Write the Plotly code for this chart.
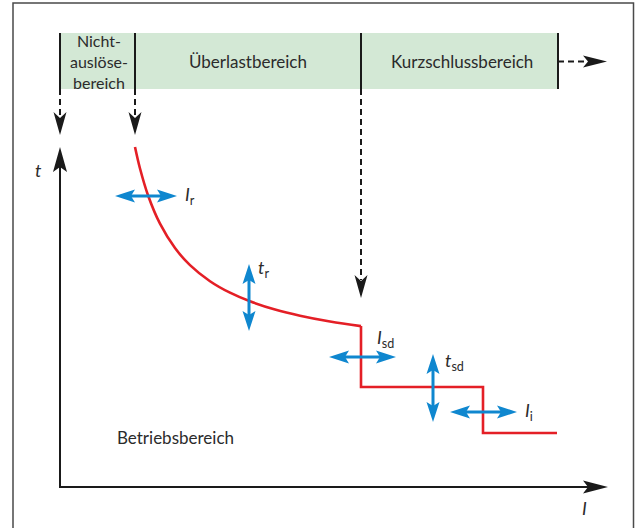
import plotly.graph_objects as go

# ---------------- data (schematic diagram, canvas units) ----------------
# region band
band_top, band_bottom = 33, 89
region_edges = [60, 135, 361, 558]
region_labels = ["Überlastbereich", "Kurzschlussbereich"]
region_label_x = [248, 462]
nicht_lines = ["Nicht-", "auslöse-", "bereich"]

# tripping characteristic (red): long-time curve then short-time / instantaneous steps
curve_x = [135, 140, 148, 160, 175, 190, 210, 230, 250, 275, 300, 330, 361]
curve_y = [147, 168.5, 195.2, 223.7, 248.1, 265.1, 281.2, 292.7, 301.3, 309.5, 315.7, 321.5, 326.1]
step_x = [361, 361, 483, 483, 557]
step_y = [326.1, 387, 387, 433, 433]

# setting arrows (blue): name, orientation, centre x, centre y, half length
setting_names = ["<i>I</i><sub>r</sub>", "<i>t</i><sub>r</sub>", "<i>I</i><sub>sd</sub>",
                 "<i>t</i><sub>sd</sub>", "<i>I</i><sub>i</sub>"]
setting_orient = ["h", "v", "h", "v", "h"]
setting_cx = [146, 249, 362.5, 433, 483.5]
setting_cy = [196, 297.5, 357, 388, 412]
setting_half = [31, 33.5, 33.5, 34, 33.5]
setting_label_x = [183, 256, 375, 443, 523]
setting_label_y = [195, 268, 338, 361, 411]

# axes
origin = (60, 487)
t_axis_tip = 147
i_axis_tip = 608

BLACK = "#1a1a1a"
RED = "#e41f26"
BLUE = "#0f87cf"
GREEN = "#d3e8d5"
TEXT = "#2b2b2b"
FONT = "Lato, 'Open Sans', sans-serif"

fig = go.Figure()


def head(tip, d, length, half_w, notch, color):
    """Filled notched arrowhead polygon; d = unit direction of pointing."""
    tx, ty = tip
    dx, dy = d
    px, py = -dy, dx
    bx, by = tx - dx * length, ty - dy * length
    nx, ny = tx - dx * (length - notch), ty - dy * (length - notch)
    xs = [tx, bx + px * half_w, nx, bx - px * half_w, tx]
    ys = [ty, by + py * half_w, ny, by - py * half_w, ty]
    fig.add_trace(go.Scatter(x=xs, y=ys, mode="lines", fill="toself", fillcolor=color,
                             line=dict(width=0, color=color), hoverinfo="skip", showlegend=False))


def seg(xs, ys, color, width, dash="solid"):
    fig.add_trace(go.Scatter(x=xs, y=ys, mode="lines", line=dict(color=color, width=width, dash=dash),
                             hoverinfo="skip", showlegend=False))


# band
fig.add_shape(type="rect", x0=region_edges[0], x1=region_edges[-1], y0=band_top, y1=band_bottom,
              fillcolor=GREEN, line=dict(width=0), layer="below")
for ex in region_edges:
    seg([ex, ex], [band_top, band_bottom], BLACK, 2)

# region labels
for lx, lab in zip(region_label_x, region_labels):
    fig.add_annotation(x=lx, y=(band_top + band_bottom) / 2, text=lab, showarrow=False,
                       font=dict(family=FONT, size=17, color=TEXT))
fig.add_annotation(x=(region_edges[0] + region_edges[1]) / 2 + 1, y=(band_top + band_bottom) / 2 + 0.5,
                   text="<br>".join(nicht_lines), showarrow=False,
                   font=dict(family=FONT, size=16, color=TEXT))

# dashed pointers
for ex in region_edges[:2]:
    seg([ex, ex], [band_bottom, 117], BLACK, 2, "6px,4px")
    head((ex, 135), (0, 1), 23, 6.5, 6, BLACK)
seg([region_edges[2]] * 2, [band_bottom, 280], BLACK, 2, "6px,4px")
head((region_edges[2], 298), (0, 1), 23, 6.5, 6, BLACK)
seg([region_edges[3], 588], [61.5, 61.5], BLACK, 2, "6px,4px")
head((607, 61.5), (1, 0), 24, 6, 5, BLACK)

# axes
seg([origin[0], origin[0]], [origin[1] + 1, t_axis_tip + 18], BLACK, 2)
head((origin[0], t_axis_tip), (0, -1), 25, 7, 5, BLACK)
seg([origin[0] - 1, i_axis_tip - 18], [origin[1], origin[1]], BLACK, 2)
head((i_axis_tip, origin[1]), (1, 0), 25, 6.5, 5, BLACK)
fig.add_annotation(x=38, y=170, text="<i>t</i>", showarrow=False, font=dict(family=FONT, size=18, color=TEXT))
fig.add_annotation(x=584, y=508, text="<i>I</i>", showarrow=False, font=dict(family=FONT, size=18, color=TEXT))

# characteristic
fig.add_trace(go.Scatter(x=curve_x, y=curve_y, mode="lines", line=dict(color=RED, width=2.6, shape="spline"),
                         hoverinfo="skip", showlegend=False))
fig.add_trace(go.Scatter(x=step_x, y=step_y, mode="lines", line=dict(color=RED, width=2.6),
                         hoverinfo="skip", showlegend=False))

# setting arrows
for name, o, cx, cy, hl, lx, ly in zip(setting_names, setting_orient, setting_cx, setting_cy,
                                        setting_half, setting_label_x, setting_label_y):
    L = 20
    if o == "h":
        seg([cx - hl + L - 6, cx + hl - L + 6], [cy, cy], BLUE, 3)
        head((cx + hl, cy), (1, 0), L, 6.5, 4, BLUE)
        head((cx - hl, cy), (-1, 0), L, 6.5, 4, BLUE)
    else:
        seg([cx, cx], [cy - hl + L - 6, cy + hl - L + 6], BLUE, 3)
        head((cx, cy + hl), (0, 1), L, 6.5, 4, BLUE)
        head((cx, cy - hl), (0, -1), L, 6.5, 4, BLUE)
    fig.add_annotation(x=lx, y=ly, text=name, showarrow=False, xanchor="left",
                       font=dict(family=FONT, size=18, color=TEXT))

fig.add_annotation(x=175, y=437, text="Betriebsbereich", showarrow=False,
                   font=dict(family=FONT, size=17, color=TEXT))

# outer frame
fig.add_shape(type="rect", x0=13, x1=633.5, y0=3, y1=540, line=dict(color="#4a4a4a", width=1.5))

fig.update_layout(width=635, height=528, margin=dict(l=0, r=0, t=0, b=0),
                  paper_bgcolor="white", plot_bgcolor="white",
                  xaxis=dict(range=[0, 635], visible=False, fixedrange=True),
                  yaxis=dict(range=[528, 0], visible=False, fixedrange=True))

fig.write_html("out.html", config=dict(displayModeBar=False),
               post_script="document.body.style.margin='0';document.body.style.overflow='hidden';")
